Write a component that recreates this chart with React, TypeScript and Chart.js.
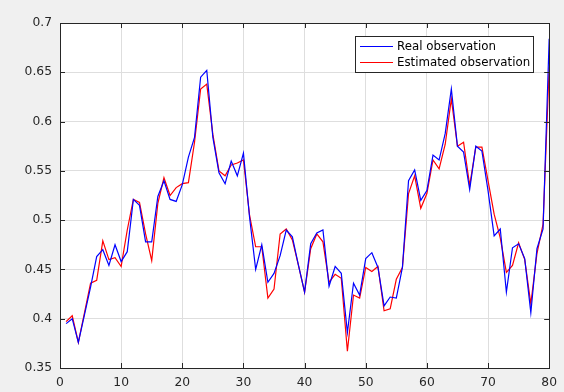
import React, { useEffect, useRef } from "react";
import { Chart, registerables } from "chart.js";

Chart.register(...registerables);

const sampleIndex: number[] = Array.from({ length: 80 }, (_, i) => i + 1);

const realObservation: number[] = [
  0.395, 0.4, 0.376, 0.404, 0.432, 0.463, 0.47, 0.454, 0.475, 0.458,
  0.468, 0.521, 0.515, 0.478, 0.478, 0.524, 0.54, 0.521, 0.519, 0.536,
  0.564, 0.584, 0.645, 0.652, 0.584, 0.548, 0.537, 0.56, 0.545, 0.568,
  0.503, 0.45, 0.475, 0.437, 0.446, 0.464, 0.49, 0.483, 0.454, 0.427,
  0.476, 0.487, 0.49, 0.433, 0.453, 0.446, 0.386, 0.436, 0.424, 0.461,
  0.467, 0.452, 0.413, 0.422, 0.421, 0.452, 0.54, 0.551, 0.52, 0.53,
  0.566, 0.561, 0.588, 0.633, 0.575, 0.569, 0.531, 0.575, 0.57, 0.53,
  0.484, 0.491, 0.427, 0.472, 0.476, 0.461, 0.406, 0.471, 0.491, 0.684,
];

const estimatedObservation: number[] = [
  0.397, 0.403, 0.376, 0.406, 0.436, 0.439, 0.479, 0.46, 0.462, 0.453,
  0.49, 0.521, 0.518, 0.486, 0.459, 0.517, 0.543, 0.525, 0.533, 0.537,
  0.538, 0.579, 0.633, 0.638, 0.587, 0.55, 0.545, 0.556, 0.558, 0.561,
  0.505, 0.473, 0.473, 0.421, 0.43, 0.486, 0.491, 0.48, 0.454, 0.427,
  0.471, 0.486, 0.478, 0.437, 0.445, 0.441, 0.367, 0.424, 0.421, 0.452,
  0.448, 0.453, 0.408, 0.41, 0.44, 0.452, 0.527, 0.545, 0.512, 0.527,
  0.561, 0.552, 0.577, 0.623, 0.575, 0.579, 0.535, 0.574, 0.574, 0.54,
  0.506, 0.482, 0.447, 0.454, 0.477, 0.46, 0.415, 0.466, 0.496, 0.655,
];

const xTicks: number[] = [0, 10, 20, 30, 40, 50, 60, 70, 80];
const yTicks: number[] = [0.35, 0.4, 0.45, 0.5, 0.55, 0.6, 0.65, 0.7];

const seriesNames = ["Real observation", "Estimated observation"];
const seriesColors = ["#0000ff", "#ff0000"];

const FONT = '"DejaVu Sans", Verdana, sans-serif';
const AXIS_COLOR = "#262626";

const framePlugin = {
  id: "matlabFrame",
  beforeDraw(chart: any) {
    const { ctx, chartArea, width, height } = chart;
    ctx.save();
    ctx.fillStyle = "#f0f0f0";
    ctx.fillRect(0, 0, width, height);
    ctx.fillStyle = "#ffffff";
    ctx.fillRect(chartArea.left, chartArea.top, chartArea.right - chartArea.left, chartArea.bottom - chartArea.top);
    ctx.restore();
  },
  afterDraw(chart: any) {
    const { ctx, chartArea, scales } = chart;
    const { left, right, top, bottom } = chartArea;
    ctx.save();
    ctx.strokeStyle = AXIS_COLOR;
    ctx.lineWidth = 1;
    ctx.strokeRect(Math.round(left) + 0.5, Math.round(top) + 0.5, Math.round(right - left), Math.round(bottom - top));
    const tl = 5;
    ctx.beginPath();
    for (const t of xTicks) {
      const px = Math.round(scales.x.getPixelForValue(t)) + 0.5;
      ctx.moveTo(px, bottom);
      ctx.lineTo(px, bottom - tl);
      ctx.moveTo(px, top);
      ctx.lineTo(px, top + tl);
    }
    for (const t of yTicks) {
      const py = Math.round(scales.y.getPixelForValue(t)) + 0.5;
      ctx.moveTo(left, py);
      ctx.lineTo(left + tl, py);
      ctx.moveTo(right, py);
      ctx.lineTo(right - tl, py);
    }
    ctx.stroke();

    // legend
    const lx = 355.5, ly = 36.5, lw = 178, lh = 36;
    ctx.fillStyle = "#ffffff";
    ctx.fillRect(lx, ly, lw, lh);
    ctx.strokeStyle = "#262626";
    ctx.strokeRect(lx, ly, lw, lh);
    ctx.font = `11.8px ${FONT}`;
    ctx.textBaseline = "middle";
    ctx.textAlign = "left";
    const rows = [46.5, 62.5];
    seriesNames.forEach((name, i) => {
      ctx.strokeStyle = seriesColors[i];
      ctx.lineWidth = 1.2;
      ctx.beginPath();
      ctx.moveTo(360, rows[i]);
      ctx.lineTo(393, rows[i]);
      ctx.stroke();
      ctx.fillStyle = "#000000";
      ctx.fillText(name, 397, rows[i] + 0.5);
    });
    ctx.restore();
  },
};

export default function App() {
  const canvasRef = useRef<HTMLCanvasElement | null>(null);

  useEffect(() => {
    if (!canvasRef.current) return;
    const chart = new Chart(canvasRef.current, {
      type: "line",
      data: {
        datasets: [
          {
            label: seriesNames[0],
            data: sampleIndex.map((x, i) => ({ x, y: realObservation[i] })),
            borderColor: seriesColors[0],
            borderWidth: 1.2,
            pointRadius: 0,
            tension: 0,
            fill: false,
          },
          {
            label: seriesNames[1],
            data: sampleIndex.map((x, i) => ({ x, y: estimatedObservation[i] })),
            borderColor: seriesColors[1],
            borderWidth: 1.2,
            pointRadius: 0,
            tension: 0,
            fill: false,
          },
        ],
      },
      options: {
        animation: false,
        responsive: true,
        maintainAspectRatio: false,
        layout: { padding: { left: 0, right: 14, top: 23, bottom: 0 } },
        plugins: {
          legend: { display: false },
          tooltip: { enabled: false },
        },
        scales: {
          x: {
            type: "linear",
            min: 0,
            max: 80,
            afterBuildTicks: (s: any) => {
              s.ticks = xTicks.map((v) => ({ value: v }));
            },
            afterFit: (s: any) => {
              s.height = 24;
            },
            grid: { color: "#dedede", drawTicks: false, lineWidth: 1 },
            border: { display: false },
            ticks: {
              color: AXIS_COLOR,
              font: { family: FONT, size: 12.3 },
              padding: 7,
              maxRotation: 0,
              callback: (v: any) => String(v),
            },
          },
          y: {
            type: "linear",
            min: 0.35,
            max: 0.7,
            afterBuildTicks: (s: any) => {
              s.ticks = yTicks.map((v) => ({ value: v }));
            },
            afterFit: (s: any) => {
              s.width = 60;
            },
            grid: { color: "#dedede", drawTicks: false, lineWidth: 1 },
            border: { display: false },
            ticks: {
              color: AXIS_COLOR,
              font: { family: FONT, size: 12.3 },
              padding: 8,
              callback: (v: any) => String(parseFloat(Number(v).toFixed(2))),
            },
          },
        },
      },
      plugins: [framePlugin],
    });
    return () => chart.destroy();
  }, []);

  return (
    <div style={{ position: "absolute", left: 0, top: 0, width: 564, height: 392 }}>
      <canvas ref={canvasRef} />
    </div>
  );
}
